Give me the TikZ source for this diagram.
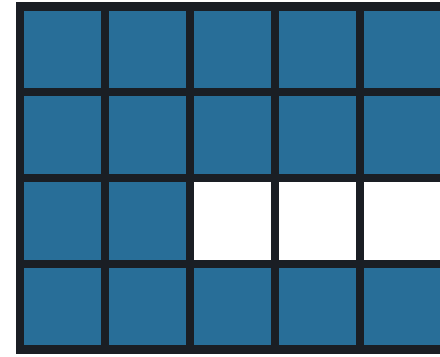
\documentclass[tikz,border=0pt]{standalone}
\usepackage{tikz}
\definecolor{cellblue}{RGB}{40,110,152}
\definecolor{gridline}{RGB}{26,30,36}

\begin{document}
\begin{tikzpicture}[x=0.025cm, y=-0.025cm,
  cell/.style={fill=cellblue},
  hole/.style={fill=white},
  rule/.style={draw=gridline, line width=0.21cm, line cap=rect}
]
  \clip (0,0) rectangle (440,356);
  \fill[white] (0,0) rectangle (440,356);
  \foreach \c in {0,...,4}
    \foreach \r in {0,...,3}
      \fill[cell] ({20+85*\c},{6.5+85.75*\r}) rectangle ++(85,85.75);
  % empty cells in the third row
  \foreach \c in {2,3,4}
    \fill[hole] ({20+85*\c},{6.5+85.75*2}) rectangle ++(85,85.75);
  \foreach \c in {0,...,5}
    \draw[rule] ({20+85*\c},6.5) -- ({20+85*\c},349.5);
  \foreach \r in {0,...,4}
    \draw[rule] (20,{6.5+85.75*\r}) -- (460,{6.5+85.75*\r});
\end{tikzpicture}
\end{document}
